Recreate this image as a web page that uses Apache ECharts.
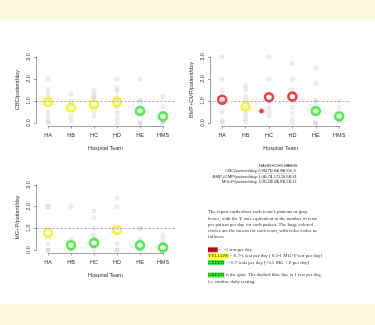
<!DOCTYPE html>
<html><head><meta charset="utf-8">
<script src="https://cdn.jsdelivr.net/npm/echarts/dist/echarts.min.js"></script>
<style>html,body{margin:0;padding:0;background:#fff}#c{width:375px;height:325px}</style>
</head><body><div id="c"></div>
<script>
// ---- data ----
const teams = ['HA', 'HB', 'HC', 'HD', 'HE', 'HMS'];
const cbcMeans = [0.95, 0.71, 0.84, 0.96, 0.55, 0.3];
const bmpMeans = [1.06, 0.74, 1.17, 1.2, 0.54, 0.31];
const mgpMeans = [0.8, 0.22, 0.33, 0.93, 0.22, 0.11];
const cbcPatients = [
  [2.0, 1.5, 1.3, 1.0, 0.5, 0.3, 0.1, 0.0],
  [1.3, 1.0, 0.8, 0.3, 0.1],
  [1.5, 1.35, 1.2, 1.1, 0.75, 0.5, 0.3],
  [2.0, 1.6, 1.45, 1.2, 1.0, 0.7, 0.45, 0.2, 0.0],
  [2.0, 1.0, 1.0, 0.5, 0.0, 0.0],
  [1.2, 0.75, 0.45, 0.1, 0.0]
];
const bmpPatients = [
  [3.0, 2.0, 1.5, 1.0, 1.0, 0.5, 0.1, 0.0],
  [1.7, 1.5, 1.2, 1.0, 0.7, 0.4, 0.2, 0.05],
  [3.0, 2.0, 1.3, 1.0, 0.7, 0.5, 0.3],
  [2.7, 2.0, 1.5, 1.0, 0.7, 0.45, 0.2, 0.0],
  [2.5, 1.8, 1.0, 1.0, 0.5, 0.0, 0.0],
  [1.0, 0.7, 0.4, 0.2, 0.1]
];
const mgpPatients = [
  [2.0, 2.0, 0.6, 0.3, 0.0, 0.0],
  [2.0, 0.5, 0.2, 0.0],
  [1.8, 1.5, 1.0, 0.7, 0.5, 0.2, 0.0],
  [2.4, 2.0, 1.0, 0.3, 0.0, 0.0],
  [1.0, 1.0, 0.5, 0.2, 0.0],
  [0.7, 0.5, 0.3, 0.0]
];
const bmpStrayPoint = [[2.68, 0.55]];
const rowLabels = ['CBC/patient/day', 'BMP+CMP/patient/day', 'MG+P/patient/day'];
const legendLines = [
  'The report cards show each team\u2019s patients as gray',
  'boxes, with the Y axis equivalent to the number of tests',
  'per patient per day for each patient. The large colored',
  'circles are the means for each team, with color codes as',
  'follows:',
  '',
  '{red|RED} = >1 test per day',
  '{yel|YELLOW} = 0.7-1 test per day [ 0.5-1 MG+P test per day]',
  '{grn|GREEN} =<0.7 tests per day [<0.5 MG + P per day]',
  '',
  '{grn|GREEN} is the goal. The dashed blue line is 1 test per day,',
  'i.e. routine daily testing.'
];

// ---- layout ----
const FONT = 'Liberation Sans, Arial, Helvetica, sans-serif';
const TXT = '#333';
const AX = '#888';
const panels = [
  { name: rowLabels[0], means: cbcMeans, pts: cbcPatients, lo: 0.7, left: 36.5, top: 57, h: 66, step: 23 },
  { name: rowLabels[1], means: bmpMeans, pts: bmpPatients, lo: 0.7, left: 210.5, top: 57, h: 66, step: 23.4 },
  { name: rowLabels[2], means: mgpMeans, pts: mgpPatients, lo: 0.5, left: 36.5, top: 185, h: 65, step: 23 }
];
function meanColor(v, lo) { return v > 1 ? '#ee1111' : (v >= lo ? '#f2f200' : '#22ee22'); }

const grid = [], xAxis = [], yAxis = [], series = [];
panels.forEach((p, i) => {
  const g = 2 * i;
  grid.push({ left: p.left, top: p.top, width: 6 * p.step, height: p.h });
  grid.push({ left: p.left + p.step / 2, top: p.top + p.h + 2, width: 5 * p.step, height: 1 });
  xAxis.push({ gridIndex: g, type: 'value', min: 0.5, max: 6.5, show: false });
  xAxis.push({
    gridIndex: g + 1, type: 'category', data: teams, boundaryGap: false,
    axisLine: { lineStyle: { color: AX, width: 0.8 } },
    axisTick: { length: 2.5, lineStyle: { color: AX, width: 0.8 } },
    axisLabel: { fontSize: 5.5, margin: 6, color: TXT, fontFamily: FONT, interval: 0 },
    name: 'Hospital Team', nameLocation: 'middle', nameGap: 19,
    nameTextStyle: { fontSize: 5.5, color: TXT, fontFamily: FONT }
  });
  yAxis.push({
    gridIndex: g, type: 'value', min: 0, max: 3, interval: 1,
    axisLine: { show: true, lineStyle: { color: AX, width: 0.8 } },
    axisTick: { show: true, length: 2.5, lineStyle: { color: AX, width: 0.8 } },
    splitLine: { show: false },
    axisLabel: { rotate: 90, fontSize: 5.5, margin: 5, color: TXT, fontFamily: FONT, formatter: v => v.toFixed(1) },
    name: p.name, nameLocation: 'middle', nameGap: 16,
    nameTextStyle: { fontSize: 5.5, color: TXT, fontFamily: FONT }
  });
  yAxis.push({ gridIndex: g + 1, type: 'value', show: false });
  const grayData = [];
  p.pts.forEach((arr, k) => arr.forEach(v => grayData.push([k + 1, v])));
  series.push({
    type: 'scatter', xAxisIndex: g, yAxisIndex: g, silent: true, symbol: 'rect', symbolSize: 4.5,
    itemStyle: { color: 'rgba(150,150,150,0.22)' }, data: grayData, z: 2
  });
  series.push({
    type: 'scatter', xAxisIndex: g, yAxisIndex: g, silent: true, symbol: 'circle', symbolSize: 8,
    data: p.means.map((v, k) => ({ value: [k + 1, v], itemStyle: { color: 'rgba(255,255,255,0)', borderColor: meanColor(v, p.lo), borderWidth: 2.6 } })),
    z: 4,
    markLine: {
      silent: true, symbol: 'none', label: { show: false },
      lineStyle: { type: [2, 2], color: '#8a8aff', width: 0.8 },
      data: [{ yAxis: 1 }]
    }
  });
  if (i === 1) {
    series.push({
      type: 'scatter', xAxisIndex: g, yAxisIndex: g, silent: true, symbol: 'circle', symbolSize: 4.5,
      itemStyle: { color: '#ee1111', shadowBlur: 3, shadowColor: 'rgba(255,80,80,0.6)' }, data: bmpStrayPoint, z: 3
    });
  }
});

// ---- annotations ----
const graphic = [
  { type: 'rect', shape: { x: 0, y: 0, width: 375, height: 20.5 }, style: { fill: '#fbfbe3' }, silent: true },
  { type: 'rect', shape: { x: 0, y: 304, width: 375, height: 21 }, style: { fill: '#fbfbe3' }, silent: true }
];
const colX = k => 262 + k * 6.2;
const tableRowsY = [171, 176.5, 182];
const tableVals = [cbcMeans, bmpMeans, mgpMeans];
teams.forEach((t, k) => graphic.push({ type: 'text', style: { text: t, x: colX(k), y: 165.8, align: 'center', verticalAlign: 'middle', font: '4.2px ' + FONT, fill: TXT } }));
rowLabels.forEach((lab, r) => {
  graphic.push({ type: 'text', style: { text: lab, x: 257, y: tableRowsY[r], align: 'right', verticalAlign: 'middle', font: '4.4px ' + FONT, fill: TXT } });
  tableVals[r].forEach((v, k) => graphic.push({ type: 'text', style: { text: String(v), x: colX(k), y: tableRowsY[r], align: 'center', verticalAlign: 'middle', font: '3.9px ' + FONT, fill: TXT } }));
});
graphic.push({ type: 'line', shape: { x1: 258, y1: 173.6, x2: 297, y2: 173.6 }, style: { stroke: '#999', lineWidth: 0.4 } });
graphic.push({ type: 'line', shape: { x1: 258, y1: 179.2, x2: 297, y2: 179.2 }, style: { stroke: '#999', lineWidth: 0.4 } });
const LH = 6.3;
graphic.push({
  type: 'text', style: {
    text: legendLines.join('\n'), x: 208, y: 212 - LH / 2, align: 'left', verticalAlign: 'top',
    font: '4.9px Liberation Serif, Times New Roman, serif', fill: '#333', lineHeight: LH,
    rich: {
      red: { backgroundColor: '#e01010', fill: '#5a0000', lineHeight: LH, font: '4.9px Liberation Serif, serif' },
      yel: { backgroundColor: '#ffff00', fill: '#333', lineHeight: LH, font: '4.9px Liberation Serif, serif' },
      grn: { backgroundColor: '#33ee33', fill: '#1a3a1a', lineHeight: LH, font: '4.9px Liberation Serif, serif' }
    }
  }
});

const chart = echarts.init(document.getElementById('c'), null, { renderer: 'canvas' });
chart.setOption({ animation: false, backgroundColor: '#ffffff', grid, xAxis, yAxis, series, graphic });
</script></body></html>
